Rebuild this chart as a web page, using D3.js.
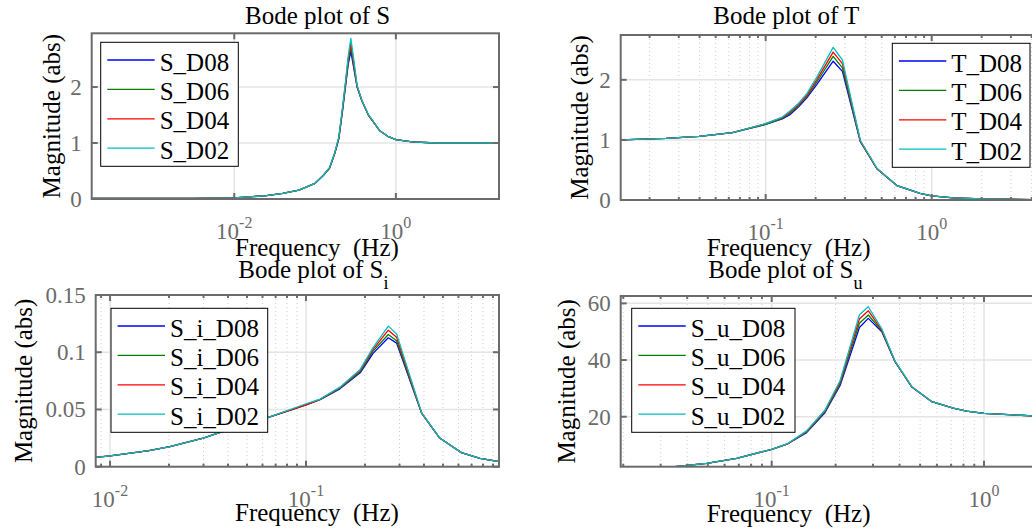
<!DOCTYPE html>
<html>
<head>
<meta charset="utf-8">
<script src="https://cdn.jsdelivr.net/npm/d3@7"></script>
<style>
	body { margin: 0; background: #fff; }
	text { font-family: "Liberation Serif", "Times New Roman", serif; }
</style>
</head>
<body>
<svg id="chart"></svg>
<script>
const WIDTH = 1032;
const HEIGHT = 531;

const SERIES = ['D08', 'D06', 'D04', 'D02'];
const COLORS = ['#0000ff', '#008000', '#ff0000', '#00bfbf'];

// Bode plot of S
const sFreq = [0.000172, 0.001, 0.00316, 0.01, 0.0251, 0.0398, 0.0631, 0.1, 0.126, 0.151, 0.176, 0.197, 0.219, 0.240, 0.257, 0.277, 0.302, 0.331, 0.380, 0.457, 0.631, 0.794, 1.0, 1.585, 3.16, 18.9];
const sD08 = [0.01, 0.01, 0.012, 0.02, 0.06, 0.10, 0.16, 0.28, 0.42, 0.55, 0.82, 1.08, 1.58, 2.05, 2.40, 2.64, 2.33, 2.00, 1.75, 1.50, 1.22, 1.12, 1.06, 1.02, 1.0, 1.0];
const sD06 = [0.01, 0.01, 0.012, 0.02, 0.06, 0.10, 0.16, 0.28, 0.42, 0.55, 0.82, 1.09, 1.60, 2.08, 2.45, 2.72, 2.37, 2.01, 1.75, 1.50, 1.22, 1.12, 1.06, 1.02, 1.0, 1.0];
const sD04 = [0.01, 0.01, 0.012, 0.02, 0.06, 0.10, 0.16, 0.28, 0.42, 0.56, 0.83, 1.10, 1.62, 2.11, 2.50, 2.78, 2.42, 2.02, 1.76, 1.50, 1.22, 1.12, 1.06, 1.02, 1.0, 1.0];
const sD02 = [0.01, 0.01, 0.012, 0.02, 0.06, 0.10, 0.16, 0.28, 0.42, 0.56, 0.84, 1.11, 1.64, 2.14, 2.55, 2.87, 2.48, 2.03, 1.76, 1.51, 1.22, 1.12, 1.06, 1.02, 1.0, 1.0];

// Bode plot of T
const tFreq = [0.0134, 0.0251, 0.0398, 0.0631, 0.1, 0.126, 0.140, 0.158, 0.177, 0.203, 0.255, 0.290, 0.372, 0.468, 0.617, 0.851, 1.0, 1.35, 2.0, 4.49];
const tD08 = [1.00, 1.025, 1.06, 1.12, 1.26, 1.35, 1.42, 1.55, 1.70, 1.92, 2.31, 2.14, 0.97, 0.52, 0.24, 0.11, 0.07, 0.035, 0.02, 0.005];
const tD06 = [1.00, 1.025, 1.06, 1.12, 1.26, 1.36, 1.44, 1.57, 1.72, 1.96, 2.39, 2.20, 0.97, 0.52, 0.24, 0.11, 0.07, 0.035, 0.02, 0.005];
const tD04 = [1.00, 1.025, 1.06, 1.12, 1.27, 1.37, 1.46, 1.59, 1.74, 2.00, 2.46, 2.27, 0.98, 0.52, 0.24, 0.11, 0.07, 0.035, 0.02, 0.005];
const tD02 = [1.00, 1.025, 1.06, 1.12, 1.27, 1.38, 1.48, 1.61, 1.77, 2.04, 2.54, 2.33, 0.99, 0.53, 0.24, 0.11, 0.07, 0.035, 0.02, 0.005];

// Bode plot of S_i
const siFreq = [0.00845, 0.01, 0.0158, 0.0202, 0.0299, 0.0426, 0.0643, 0.1, 0.118, 0.149, 0.189, 0.220, 0.263, 0.290, 0.389, 0.481, 0.621, 0.773, 0.966];
const siD08 = [0.0082, 0.0094, 0.014, 0.0175, 0.025, 0.034, 0.043, 0.054, 0.0585, 0.0680, 0.0820, 0.0990, 0.1126, 0.1080, 0.0468, 0.025, 0.0123, 0.0073, 0.0044];
const siD06 = [0.0082, 0.0094, 0.014, 0.0175, 0.025, 0.034, 0.043, 0.054, 0.0587, 0.0685, 0.0830, 0.1010, 0.1155, 0.1100, 0.0468, 0.025, 0.0123, 0.0073, 0.0044];
const siD04 = [0.0082, 0.0094, 0.014, 0.0175, 0.025, 0.034, 0.043, 0.054, 0.0589, 0.0690, 0.0840, 0.1025, 0.1193, 0.1130, 0.0470, 0.025, 0.0123, 0.0073, 0.0044];
const siD02 = [0.0082, 0.0094, 0.014, 0.0175, 0.025, 0.034, 0.043, 0.055, 0.0591, 0.0695, 0.0850, 0.1040, 0.1228, 0.1160, 0.0472, 0.025, 0.0123, 0.0073, 0.0044];

// Bode plot of S_u
const suFreq = [0.0126, 0.0251, 0.0351, 0.0494, 0.0684, 0.1, 0.118, 0.146, 0.178, 0.210, 0.259, 0.285, 0.330, 0.381, 0.456, 0.568, 0.716, 0.827, 1.0, 1.68];
const suD08 = [1.2, 1.8, 2.4, 3.55, 5.3, 8.5, 10.3, 14.4, 21.4, 31.0, 51.5, 54.7, 50.0, 39.4, 30.6, 25.3, 23.0, 22.0, 21.2, 20.3];
const suD06 = [1.2, 1.8, 2.4, 3.55, 5.3, 8.5, 10.3, 14.6, 21.7, 31.6, 53.0, 55.9, 50.3, 39.4, 30.6, 25.3, 23.0, 22.0, 21.2, 20.3];
const suD04 = [1.2, 1.8, 2.4, 3.55, 5.3, 8.5, 10.3, 14.8, 22.0, 32.2, 54.5, 57.4, 50.6, 39.5, 30.6, 25.3, 23.0, 22.0, 21.2, 20.3];
const suD02 = [1.2, 1.8, 2.4, 3.55, 5.3, 8.5, 10.4, 15.0, 22.3, 32.8, 56.0, 58.8, 51.0, 39.6, 30.7, 25.3, 23.0, 22.0, 21.2, 20.3];

const sYTicks = [0, 1, 2];
const tYTicks = [0, 1, 2];
const siYTicks = [0, 0.05, 0.1, 0.15];
const suYTicks = [20, 40, 60];

const sXTicks = [0.01, 1];
const tXTicks = [0.1, 1];
const siXTicks = [0.01, 0.1];
const suXTicks = [0.1, 1];

const PANELS = [
	{
		id: 's', box: [91.7, 499, 33.3, 199], xDomain: [0.000172, 18.9], yDomain: [0, 2.96],
		freq: sFreq, series: [sD08, sD06, sD04, sD02], yTicks: sYTicks, xTicks: sXTicks, minor: false,
		title: ['Bode plot of S', ''], titlePos: [245, 24],
		xLabelPos: [235, 256], yLabelX: 60,
		names: SERIES.map(s => 'S_' + s), legend: [100.7, 42.3, 137.6]
	},
	{
		id: 't', box: [620.7, 1040, 35, 200], xDomain: [0.0134, 4.49], yDomain: [0, 2.746],
		freq: tFreq, series: [tD08, tD06, tD04, tD02], yTicks: tYTicks, xTicks: tXTicks, minor: true,
		title: ['Bode plot of T', ''], titlePos: [713.3, 24],
		xLabelPos: [706.7, 256], yLabelX: 588,
		names: SERIES.map(s => 'T_' + s), legend: [892.3, 43.3, 137.7]
	},
	{
		id: 'si', box: [95.7, 499, 295, 466.7], xDomain: [0.00845, 0.966], yDomain: [0, 0.15],
		freq: siFreq, series: [siD08, siD06, siD04, siD02], yTicks: siYTicks, xTicks: siXTicks, minor: true,
		title: ['Bode plot of S', 'i'], titlePos: [238.3, 278],
		xLabelPos: [235, 521], yLabelX: 31.7,
		names: SERIES.map(s => 'S_i_' + s), legend: [111, 308.3, 156.7]
	},
	{
		id: 'su', box: [620.7, 1040, 296, 466.7], xDomain: [0.01945, 1.835], yDomain: [2.36, 62.6],
		freq: suFreq, series: [suD08, suD06, suD04, suD02], yTicks: suYTicks, xTicks: suXTicks, minor: true,
		title: ['Bode plot of S', 'u'], titlePos: [708.3, 278],
		xLabelPos: [706.7, 521.5], yLabelX: 575,
		names: SERIES.map(s => 'S_u_' + s), legend: [631.7, 308.3, 163.3]
	}
];

const svg = d3.select('#chart')
	.attr('width', WIDTH)
	.attr('height', HEIGHT);

svg.append('rect')
	.attr('width', WIDTH)
	.attr('height', HEIGHT)
	.attr('fill', '#fff');

const AXIS_COLOR = '#6b6b6b';
const FONT = 25;
const TICK_FONT = 23;

const minorTicks = (domain) => {
	const out = [];
	const lo = Math.floor(Math.log10(domain[0]));
	const hi = Math.ceil(Math.log10(domain[1]));
	for (let e = lo; e < hi; e++) {
		for (let m = 2; m <= 9; m++) {
			const v = m * Math.pow(10, e);
			if (v > domain[0] && v < domain[1]) out.push(v);
		}
	}
	return out;
};

const drawPanel = (p) => {
	const [x0, x1, y0, y1] = p.box;
	const x = d3.scaleLog().domain(p.xDomain).range([x0, x1]);
	const y = d3.scaleLinear().domain(p.yDomain).range([y1, y0]);
	const g = svg.append('g').attr('class', `panel-${p.id}`);

	const minors = p.minor ? minorTicks(p.xDomain) : [];

	// grid
	g.selectAll('.minor-grid')
		.data(minors)
		.enter().append('line')
		.attr('x1', d => x(d)).attr('x2', d => x(d))
		.attr('y1', y0).attr('y2', y1)
		.attr('stroke', '#cfcfcf')
		.attr('stroke-width', 1)
		.attr('stroke-dasharray', '1,3');

	g.selectAll('.xgrid')
		.data(p.xTicks)
		.enter().append('line')
		.attr('x1', d => x(d)).attr('x2', d => x(d))
		.attr('y1', y0).attr('y2', y1)
		.attr('stroke', '#e4e4e4')
		.attr('stroke-width', 1.5);

	g.selectAll('.ygrid')
		.data(p.yTicks)
		.enter().append('line')
		.attr('x1', x0).attr('x2', x1)
		.attr('y1', d => y(d)).attr('y2', d => y(d))
		.attr('stroke', '#e4e4e4')
		.attr('stroke-width', 1.5);

	// curves
	svg.append('clipPath')
		.attr('id', `clip-${p.id}`)
		.append('rect')
		.attr('x', x0).attr('y', y0)
		.attr('width', x1 - x0).attr('height', y1 - y0);

	const line = d3.line()
		.x(d => x(d[0]))
		.y(d => y(d[1]));

	const curves = g.append('g').attr('clip-path', `url(#clip-${p.id})`);
	p.series.forEach((vals, i) => {
		curves.append('path')
			.datum(p.freq.map((f, k) => [f, vals[k]]))
			.attr('fill', 'none')
			.attr('stroke', COLORS[i])
			.attr('stroke-width', 1.3)
			.attr('stroke-linejoin', 'round')
			.attr('d', line);
	});

	// box
	g.append('rect')
		.attr('x', x0).attr('y', y0)
		.attr('width', x1 - x0).attr('height', y1 - y0)
		.attr('fill', 'none')
		.attr('stroke', AXIS_COLOR)
		.attr('stroke-width', 2);

	// ticks
	const tickLines = g.append('g')
		.attr('stroke', AXIS_COLOR)
		.attr('stroke-width', 2);
	p.xTicks.forEach(t => {
		tickLines.append('line').attr('x1', x(t)).attr('x2', x(t)).attr('y1', y1).attr('y2', y1 - 6);
		tickLines.append('line').attr('x1', x(t)).attr('x2', x(t)).attr('y1', y0).attr('y2', y0 + 6);
	});
	minors.forEach(t => {
		tickLines.append('line').attr('x1', x(t)).attr('x2', x(t)).attr('y1', y1).attr('y2', y1 - 3);
		tickLines.append('line').attr('x1', x(t)).attr('x2', x(t)).attr('y1', y0).attr('y2', y0 + 3);
	});
	p.yTicks.forEach(t => {
		tickLines.append('line').attr('x1', x0).attr('x2', x0 + 6).attr('y1', y(t)).attr('y2', y(t));
		tickLines.append('line').attr('x1', x1).attr('x2', x1 - 6).attr('y1', y(t)).attr('y2', y(t));
	});

	// tick labels
	g.selectAll('.ylab')
		.data(p.yTicks)
		.enter().append('text')
		.attr('x', x0 - 10)
		.attr('y', d => y(d) + 8)
		.attr('text-anchor', 'end')
		.attr('font-size', TICK_FONT)
		.attr('fill', AXIS_COLOR)
		.text(d => d3.format('~g')(d));

	p.xTicks.forEach(t => {
		const lab = g.append('text')
			.attr('x', x(t))
			.attr('y', y1 + 40)
			.attr('text-anchor', 'middle')
			.attr('font-size', TICK_FONT)
			.attr('fill', AXIS_COLOR);
		lab.append('tspan').text('10');
		lab.append('tspan')
			.attr('dy', -11)
			.attr('font-size', 16)
			.text(Math.round(Math.log10(t)));
	});

	// labels
	g.append('text')
		.attr('x', p.xLabelPos[0])
		.attr('y', p.xLabelPos[1])
		.attr('font-size', FONT)
		.attr('fill', '#000')
		.attr('xml:space', 'preserve')
		.style('white-space', 'pre')
		.text('Frequency  (Hz)');

	g.append('text')
		.attr('transform', `translate(${p.yLabelX},${(y0 + y1) / 2}) rotate(-90)`)
		.attr('text-anchor', 'middle')
		.attr('font-size', FONT)
		.attr('fill', '#000')
		.text('Magnitude (abs)');

	const title = g.append('text')
		.attr('x', p.titlePos[0])
		.attr('y', p.titlePos[1])
		.attr('font-size', FONT)
		.attr('fill', '#000');
	title.append('tspan').text(p.title[0]);
	if (p.title[1]) {
		title.append('tspan')
			.attr('dy', 11)
			.attr('font-size', 18)
			.text(p.title[1]);
	}

	// legend
	const [lx, ly, lw] = p.legend;
	const leg = g.append('g');
	leg.append('rect')
		.attr('x', lx).attr('y', ly)
		.attr('width', lw).attr('height', 124)
		.attr('fill', '#fff')
		.attr('stroke', '#000')
		.attr('stroke-width', 1);
	p.names.forEach((name, i) => {
		const ry = ly + 17.7 + i * 29.4;
		leg.append('line')
			.attr('x1', lx + 6.6).attr('x2', lx + 54)
			.attr('y1', ry).attr('y2', ry)
			.attr('stroke', COLORS[i])
			.attr('stroke-width', 1.3);
		leg.append('text')
			.attr('x', lx + 59)
			.attr('y', ry + 10.5)
			.attr('font-size', FONT)
			.attr('fill', '#000')
			.text(name);
	});
};

PANELS.forEach(drawPanel);
</script>
</body>
</html>
